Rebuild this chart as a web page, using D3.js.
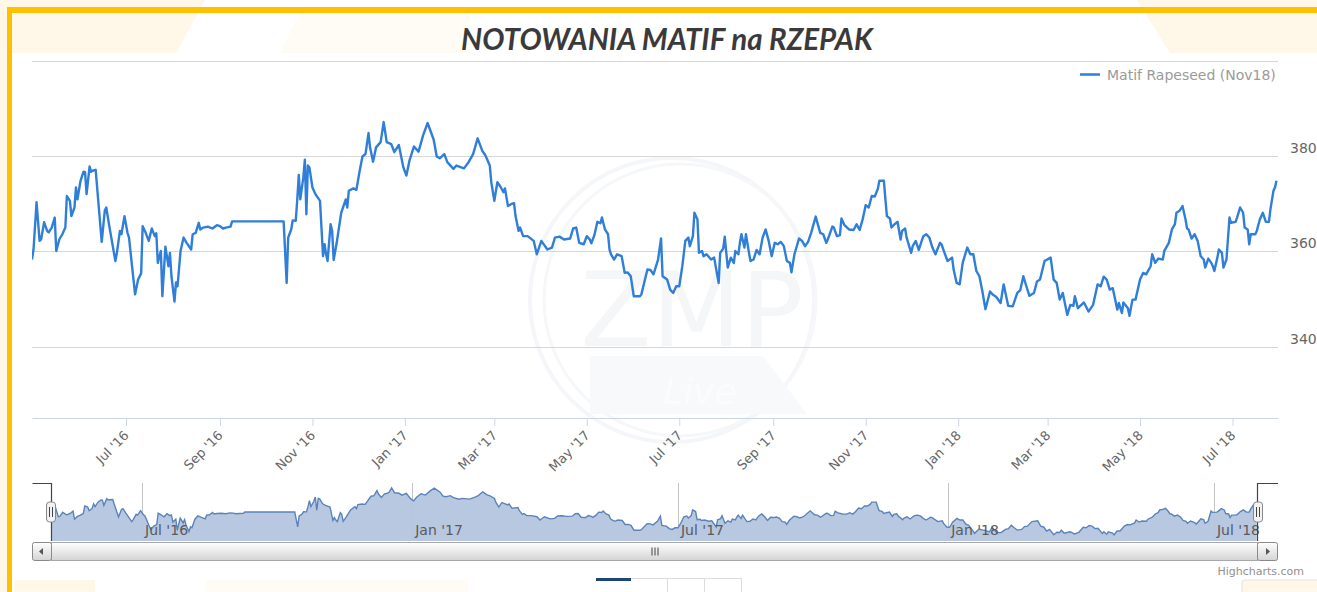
<!DOCTYPE html>
<html>
<head>
<meta charset="utf-8">
<script src="https://cdn.jsdelivr.net/npm/d3@7"></script>
<style>
  body { margin: 0; background: #fff; }
  svg { display: block; }
</style>
</head>
<body>
<div id="chart"></div>
<script>
const width = 1317;
const height = 592;

const title = "NOTOWANIA MATIF na RZEPAK";
const seriesName = "Matif Rapeseed (Nov18)";

// daily quotes, EUR/t
const dates2016 = [
  "2016-04-30","2016-05-01","2016-05-03","2016-05-05","2016-05-06","2016-05-08","2016-05-10","2016-05-11","2016-05-13","2016-05-15",
  "2016-05-16","2016-05-18","2016-05-20","2016-05-22","2016-05-23","2016-05-25","2016-05-26","2016-05-28","2016-05-29","2016-05-30",
  "2016-06-01","2016-06-03","2016-06-04","2016-06-05","2016-06-07","2016-06-08","2016-06-09","2016-06-11","2016-06-13","2016-06-15",
  "2016-06-17","2016-06-18","2016-06-20","2016-06-24","2016-06-25","2016-06-27","2016-06-28","2016-06-30",
  "2016-07-02","2016-07-03","2016-07-05","2016-07-07","2016-07-09","2016-07-11","2016-07-12","2016-07-14","2016-07-16","2016-07-18",
  "2016-07-20","2016-07-21","2016-07-22","2016-07-24","2016-07-25","2016-07-27","2016-07-29","2016-07-30","2016-07-31",
  "2016-08-02","2016-08-03","2016-08-04","2016-08-06","2016-08-08","2016-08-10","2016-08-13","2016-08-14","2016-08-16","2016-08-18",
  "2016-08-19","2016-08-21","2016-08-24","2016-08-27","2016-08-30",
  "2016-09-01","2016-09-03","2016-09-05","2016-09-08","2016-09-09",
  "2016-10-13","2016-10-15","2016-10-16","2016-10-18","2016-10-19","2016-10-21","2016-10-22","2016-10-23","2016-10-24","2016-10-26",
  "2016-10-27","2016-10-28","2016-10-29","2016-10-30",
  "2016-11-01","2016-11-03","2016-11-06","2016-11-08","2016-11-09","2016-11-10","2016-11-11","2016-11-13","2016-11-14","2016-11-15",
  "2016-11-17","2016-11-20","2016-11-23","2016-11-24","2016-11-25","2016-11-28","2016-11-30",
  "2016-12-02","2016-12-04","2016-12-06","2016-12-08","2016-12-09","2016-12-11","2016-12-13","2016-12-16","2016-12-18","2016-12-20",
  "2016-12-23","2016-12-25","2016-12-28","2016-12-31"
];
const prices2016 = [
  358.3, 360.4, 370.3, 362.2, 362.5, 366.1, 364.3, 364.0, 365.0, 367.1,
  360.1, 362.5, 363.6, 365.0, 371.6, 370.6, 367.4, 369.2, 373.4, 370.9,
  374.8, 376.7, 376.6, 372.0, 377.8, 376.7, 376.9, 377.1, 369.5, 362.0,
  368.5, 369.2, 365.3, 358.0, 359.7, 364.3, 363.6, 367.4,
  363.9, 362.9, 356.9, 351.0, 354.1, 355.4, 365.3, 363.9, 362.2, 364.8,
  363.2, 363.8, 357.6, 360.1, 350.6, 361.0, 356.9, 359.7, 354.8,
  349.5, 353.5, 352.7, 360.1, 362.9, 361.8, 360.4, 363.6, 363.9, 366.0,
  364.6, 365.0, 365.2, 364.8, 365.5,
  365.3, 364.8, 365.0, 365.2, 366.3,
  366.3, 353.4, 362.9, 364.6, 366.5, 366.4, 370.9, 376.0, 370.9, 375.5,
  379.2, 367.8, 378.0, 377.6,
  373.4, 372.0, 370.6, 359.0, 361.5, 359.4, 358.0, 365.7, 364.3, 358.2,
  361.8, 368.1, 370.9, 369.2, 372.7, 373.2, 372.9,
  376.6, 379.9, 380.4, 384.8, 381.8, 378.8, 381.8, 382.9, 387.1, 382.9,
  382.5, 380.8, 382.3, 377.6
];

const dates2017 = [
  "2017-01-02","2017-01-04","2017-01-07","2017-01-10","2017-01-13","2017-01-16","2017-01-20","2017-01-22","2017-01-24","2017-01-27","2017-01-29",
  "2017-02-02","2017-02-04","2017-02-09","2017-02-12","2017-02-15","2017-02-18","2017-02-21","2017-02-23","2017-02-26","2017-02-27",
  "2017-03-01","2017-03-03","2017-03-05","2017-03-07","2017-03-08","2017-03-10","2017-03-12","2017-03-14","2017-03-15","2017-03-17",
  "2017-03-18","2017-03-20","2017-03-23","2017-03-27","2017-03-29",
  "2017-04-01","2017-04-05","2017-04-08","2017-04-10","2017-04-13","2017-04-16","2017-04-20","2017-04-22","2017-04-24","2017-04-26","2017-04-29",
  "2017-05-01","2017-05-03","2017-05-04","2017-05-06","2017-05-08","2017-05-10","2017-05-11","2017-05-13","2017-05-15","2017-05-16",
  "2017-05-17","2017-05-19","2017-05-21","2017-05-24","2017-05-26","2017-05-28","2017-05-30",
  "2017-06-01","2017-06-05","2017-06-06","2017-06-10","2017-06-12","2017-06-14","2017-06-17","2017-06-19","2017-06-20","2017-06-23",
  "2017-06-25","2017-06-27","2017-06-29",
  "2017-07-01","2017-07-03","2017-07-05","2017-07-07","2017-07-08","2017-07-10","2017-07-11","2017-07-13","2017-07-14","2017-07-16",
  "2017-07-17","2017-07-19","2017-07-22","2017-07-24","2017-07-27","2017-07-28","2017-07-30","2017-07-31",
  "2017-08-02","2017-08-04","2017-08-06","2017-08-07","2017-08-09","2017-08-10","2017-08-11","2017-08-13","2017-08-14","2017-08-16",
  "2017-08-17","2017-08-19","2017-08-21","2017-08-23","2017-08-25","2017-08-27","2017-08-29","2017-08-31",
  "2017-09-02","2017-09-04","2017-09-06","2017-09-08","2017-09-10","2017-09-12","2017-09-13","2017-09-15","2017-09-18","2017-09-20",
  "2017-09-22","2017-09-24","2017-09-26","2017-09-29",
  "2017-10-02","2017-10-04","2017-10-06","2017-10-07","2017-10-10","2017-10-11","2017-10-13","2017-10-15","2017-10-16","2017-10-18",
  "2017-10-21","2017-10-24","2017-10-26","2017-10-28","2017-10-30",
  "2017-11-01","2017-11-03","2017-11-05","2017-11-07","2017-11-09","2017-11-10","2017-11-13","2017-11-14","2017-11-15","2017-11-17",
  "2017-11-18","2017-11-20","2017-11-22","2017-11-24","2017-11-25","2017-11-27","2017-11-28",
  "2017-12-01","2017-12-02","2017-12-04","2017-12-06","2017-12-09","2017-12-11","2017-12-13","2017-12-15","2017-12-17","2017-12-20",
  "2017-12-21","2017-12-23","2017-12-25","2017-12-28","2017-12-29","2017-12-31"
];
const prices2017 = [
  375.9, 379.0, 382.0, 380.9, 384.3, 386.9, 383.4, 379.9, 379.5, 380.4, 378.7,
  377.3, 378.0, 377.4, 378.7, 380.4, 383.7, 381.1, 380.2, 378.0, 374.5,
  370.6, 374.5, 373.6, 372.4, 373.2, 369.5, 369.9, 370.1, 367.4, 364.3,
  365.0, 363.2, 363.2, 362.2, 359.4,
  362.2, 360.4, 360.8, 362.9, 363.1, 362.5, 362.7, 364.8, 365.0, 361.8, 361.5,
  363.2, 362.5, 361.7, 363.4, 366.2, 365.9, 367.1, 364.6, 363.6, 360.4,
  359.4, 358.3, 359.4, 359.0, 355.5, 355.6, 354.8,
  350.6, 350.6, 351.0, 356.2, 356.1, 355.2, 358.3, 362.7, 354.8, 354.1,
  352.0, 351.3, 352.7,
  352.7, 356.9, 362.2, 362.9, 361.1, 363.2, 368.1, 366.7, 359.7, 360.1,
  359.0, 359.4, 358.3, 358.7, 353.4, 359.7, 360.6, 363.1,
  356.6, 358.7, 357.6, 360.1, 359.4, 361.8, 363.6, 360.8, 363.6, 359.7,
  358.0, 358.3, 360.3, 359.4, 362.9, 364.6, 362.2, 359.0,
  361.8, 361.5, 362.0, 361.1, 358.0, 357.6, 355.6, 359.4, 362.7, 362.2,
  361.1, 362.0, 363.9, 367.3,
  363.9, 363.6, 361.8, 362.5, 365.2, 365.0, 363.2, 363.4, 366.9, 365.5,
  364.6, 364.5, 365.7, 364.5, 366.7,
  369.7, 369.2, 371.6, 371.5, 373.1, 374.8, 374.8, 370.9, 367.4, 366.9,
  365.0, 365.7, 366.2, 362.5, 364.3, 364.8, 362.9,
  359.7, 361.1, 362.2, 360.3, 363.2, 363.6, 362.9, 360.8, 359.4, 361.8,
  361.5, 359.7, 358.0, 358.7, 356.2, 353.4
];

const dates2018 = [
  "2018-01-02","2018-01-04","2018-01-07","2018-01-09","2018-01-11","2018-01-13","2018-01-15","2018-01-17","2018-01-19","2018-01-22",
  "2018-01-24","2018-01-26","2018-01-29","2018-01-31",
  "2018-02-03","2018-02-06","2018-02-09","2018-02-11","2018-02-13","2018-02-15","2018-02-17","2018-02-20","2018-02-22","2018-02-24","2018-02-27",
  "2018-03-03","2018-03-05","2018-03-07","2018-03-09","2018-03-11","2018-03-14","2018-03-16","2018-03-18","2018-03-19","2018-03-21",
  "2018-03-25","2018-03-28","2018-03-31",
  "2018-04-03","2018-04-05","2018-04-07","2018-04-09","2018-04-11","2018-04-13","2018-04-16","2018-04-17","2018-04-19","2018-04-20",
  "2018-04-23","2018-04-24","2018-04-26","2018-04-28",
  "2018-05-01","2018-05-03","2018-05-05","2018-05-08","2018-05-09","2018-05-11","2018-05-13","2018-05-16","2018-05-17","2018-05-20",
  "2018-05-22","2018-05-24","2018-05-25","2018-05-27","2018-05-29","2018-05-31",
  "2018-06-01","2018-06-02","2018-06-04","2018-06-06","2018-06-08","2018-06-10","2018-06-12","2018-06-13","2018-06-15","2018-06-17",
  "2018-06-18","2018-06-19","2018-06-21","2018-06-22","2018-06-24","2018-06-25","2018-06-27","2018-06-29","2018-06-30",
  "2018-07-03","2018-07-04","2018-07-06","2018-07-08","2018-07-09","2018-07-11","2018-07-12","2018-07-13","2018-07-16","2018-07-17",
  "2018-07-19","2018-07-21","2018-07-23","2018-07-25","2018-07-26","2018-07-28","2018-07-29","2018-07-30"
];
const prices2018 = [
  353.1, 357.6, 360.8, 359.4, 359.4, 355.9, 354.8, 351.6, 347.9, 351.6,
  350.9, 350.5, 349.2, 353.1,
  348.6, 348.5, 351.3, 351.9, 354.8, 352.7, 350.7, 351.3, 353.7, 354.1, 358.0,
  358.7, 354.1, 353.4, 349.9, 351.3, 346.7, 348.8, 348.6, 350.6, 348.1,
  349.3, 347.4, 348.8,
  353.1, 352.7, 354.7, 354.1, 352.0, 352.3, 347.8, 349.2, 347.1, 349.3,
  348.1, 346.5, 349.9, 349.9,
  354.1, 355.5, 355.2, 356.9, 359.4, 357.6, 358.5, 358.3, 360.1, 361.8,
  364.6, 365.7, 368.1, 368.5, 369.5, 366.7,
  364.8, 364.6, 362.7, 363.6, 362.2, 359.0, 358.3, 356.6, 358.5, 357.6,
  356.9, 355.9, 358.7, 360.4, 359.7, 356.6, 358.3, 367.1, 366.0,
  366.2, 367.1, 369.2, 368.1, 365.0, 364.6, 361.5, 363.6, 363.6, 364.3,
  366.7, 368.1, 366.2, 366.2, 368.8, 372.7, 373.4, 374.8
];

const xDomain = ["2016-04-30", "2018-07-31"];
const yDomain = [325.1, 400];
const gridValues = [340, 360, 380, 400];
const yLabelValues = [340, 360, 380];
const xTickDates = [
  "2016-07-01","2016-09-01","2016-11-01","2017-01-01","2017-03-01","2017-05-01",
  "2017-07-01","2017-09-01","2017-11-01","2018-01-01","2018-03-01","2018-05-01","2018-07-01"
];
const navTickDates = ["2016-07-01","2017-01-01","2017-07-01","2018-01-01","2018-07-01"];
const navDomain = [341.3, 391.3];

const parse = d3.timeParse("%Y-%m-%d");
const fmt = d3.timeFormat("%b '%y");

const dates = dates2016.concat(dates2017, dates2018).map(parse);
const prices = prices2016.concat(prices2017, prices2018);
const data = dates.map((d, i) => ({ date: d, value: prices[i] }));

const plot = { left: 32, right: 1278, top: 60.5, bottom: 418 };
const nav = { left: 51, right: 1258, top: 483, bottom: 541 };
const font = "DejaVu Sans, sans-serif";

const svg = d3.select("#chart")
  .append("svg")
  .attr("width", width)
  .attr("height", height)
  .style("font-family", font);

const defs = svg.append("defs");
defs.append("clipPath").attr("id", "plot-clip")
  .append("rect")
  .attr("x", plot.left).attr("y", plot.top - 5)
  .attr("width", plot.right - plot.left).attr("height", plot.bottom - plot.top + 5);

const grad = defs.append("linearGradient").attr("id", "sb-grad")
  .attr("x1", 0).attr("y1", 0).attr("x2", 0).attr("y2", 1);
grad.append("stop").attr("offset", "0%").attr("stop-color", "#ffffff");
grad.append("stop").attr("offset", "100%").attr("stop-color", "#d4d4d4");

// page background bits
const cream = "#fff7e8";
svg.append("rect").attr("x", 0).attr("y", 0).attr("width", 7).attr("height", height).attr("fill", cream);
svg.append("polygon").attr("points", "0,0 205,0 176,53 12,53 12,7 0,7").attr("fill", cream);
svg.append("polygon").attr("points", "300,12 470,12 470,53 280,53").attr("fill", "#fffcf6");
svg.append("polygon").attr("points", "1137,0 1317,0 1317,53 1170,53").attr("fill", cream);
svg.append("rect").attr("x", 14).attr("y", 580).attr("width", 81).attr("height", 12).attr("fill", cream);
svg.append("rect").attr("x", 206).attr("y", 580).attr("width", 262).attr("height", 12).attr("fill", "#fffcf5");
svg.append("rect").attr("x", 1242).attr("y", 580).attr("width", 80).attr("height", 14).attr("rx", 3)
  .attr("fill", cream).attr("stroke", "#e4e4e4");

// yellow frame
svg.append("rect").attr("x", 7).attr("y", 7).attr("width", width - 7).attr("height", 6).attr("fill", "#ffc000");
svg.append("rect").attr("x", 7).attr("y", 7).attr("width", 5).attr("height", height - 7).attr("fill", "#ffc000");

// faint watermark
const wm = svg.append("g").attr("class", "watermark");
wm.append("circle").attr("cx", 672).attr("cy", 300).attr("r", 142)
  .attr("fill", "none").attr("stroke", "#f5f6f9").attr("stroke-width", 4);
wm.append("circle").attr("cx", 680).attr("cy", 300).attr("r", 136)
  .attr("fill", "none").attr("stroke", "#f6f7f9").attr("stroke-width", 3);
wm.append("polygon").attr("points", "590,356 763,356 807,414 590,414").attr("fill", "#f8f9fa");
wm.append("text").attr("x", 692).attr("y", 346).attr("text-anchor", "middle")
  .attr("font-size", 104).attr("fill", "#f5f6f8").text("ZMP");
wm.append("text").attr("x", 700).attr("y", 404).attr("text-anchor", "middle")
  .attr("font-size", 36).attr("font-style", "italic").attr("fill", "#fcfcfd").text("Live");

// scales
const x = d3.scaleTime().domain(xDomain.map(parse)).range([plot.left, plot.right]);
const y = d3.scaleLinear().domain(yDomain).range([plot.bottom, plot.top]);

// grid lines
svg.append("g")
  .selectAll("line")
  .data(gridValues)
  .enter()
  .append("line")
  .attr("x1", plot.left).attr("x2", plot.right)
  .attr("y1", d => Math.round(y(d)) + 0.5).attr("y2", d => Math.round(y(d)) + 0.5)
  .attr("stroke", "#d6d6d6").attr("stroke-width", 1.2);

// x axis
const xAxis = d3.axisBottom(x)
  .tickValues(xTickDates.map(parse))
  .tickFormat(fmt)
  .tickSize(8)
  .tickSizeOuter(0);

const gx = svg.append("g")
  .attr("transform", `translate(0, ${plot.bottom})`)
  .call(xAxis)
  .attr("font-family", font);
gx.select(".domain").attr("stroke", "#ccd6eb");
gx.selectAll(".tick line").attr("stroke", "#ccd6eb");
gx.selectAll(".tick text")
  .attr("x", 0).attr("y", 0).attr("dy", "0.35em")
  .attr("text-anchor", "end")
  .attr("transform", "translate(0, 15) rotate(-45)")
  .attr("font-size", 13)
  .attr("fill", "#666");

// y axis labels on the right
const yAxis = d3.axisRight(y)
  .tickValues(yLabelValues)
  .tickSize(0)
  .tickPadding(12);
const gy = svg.append("g")
  .attr("transform", `translate(${plot.right}, 0)`)
  .call(yAxis)
  .attr("font-family", font);
gy.select(".domain").remove();
gy.selectAll(".tick text")
  .attr("dy", -3.5)
  .attr("font-size", 14)
  .attr("fill", "#666");

// series line
const line = d3.line()
  .x(d => x(d.date))
  .y(d => y(d.value));

svg.append("path")
  .datum(data)
  .attr("clip-path", "url(#plot-clip)")
  .attr("d", line)
  .attr("fill", "none")
  .attr("stroke", "#2f7ed8")
  .attr("stroke-width", 2.4)
  .attr("stroke-linejoin", "round");

// legend
const legend = svg.append("g").attr("transform", "translate(1080, 74.5)");
legend.append("line").attr("x1", 0).attr("x2", 20).attr("y1", 0).attr("y2", 0)
  .attr("stroke", "#2f7ed8").attr("stroke-width", 2.5);
legend.append("text").attr("x", 27).attr("y", 5.5)
  .attr("font-size", 14).attr("fill", "#9a9a9a").text(seriesName);

// title
svg.append("text")
  .attr("x", 667).attr("y", 50)
  .attr("text-anchor", "middle")
  .style("font-family", "Lato, 'Open Sans', sans-serif")
  .attr("font-weight", "bold")
  .attr("font-style", "italic")
  .attr("font-size", 29.5)
  .attr("fill", "#3a3a3a")
  .text(title);

// navigator
const xNav = d3.scaleTime().domain(xDomain.map(parse)).range([nav.left, nav.right]);
const yNav = d3.scaleLinear().domain(navDomain).range([nav.bottom, nav.top]);

svg.append("g")
  .selectAll("line")
  .data(navTickDates.map(parse))
  .enter()
  .append("line")
  .attr("x1", d => Math.round(xNav(d)) + 0.5).attr("x2", d => Math.round(xNav(d)) + 0.5)
  .attr("y1", nav.top).attr("y2", nav.bottom)
  .attr("stroke", "#c4c4c4");

const area = d3.area()
  .x(d => xNav(d.date))
  .y0(nav.bottom)
  .y1(d => yNav(d.value));

svg.append("path")
  .datum(data)
  .attr("d", area)
  .attr("fill", "#b4c5de")
  .attr("fill-opacity", 0.95);

svg.append("path")
  .datum(data)
  .attr("d", d3.line().x(d => xNav(d.date)).y(d => yNav(d.value)))
  .attr("fill", "none")
  .attr("stroke", "#5b83ba")
  .attr("stroke-width", 1.4);

svg.append("g")
  .selectAll("text")
  .data(navTickDates.map(parse))
  .enter()
  .append("text")
  .attr("x", d => xNav(d) + 3)
  .attr("y", 535)
  .attr("font-size", 14)
  .attr("fill", "#5a5a5a")
  .text(fmt);

// navigator outline
svg.append("path")
  .attr("d", `M${plot.left + 0.5},${nav.top + 0.5} H${nav.left + 0.5} V${nav.bottom}` +
             ` M${nav.right - 0.5},${nav.bottom} V${nav.top + 0.5} H${plot.right}`)
  .attr("fill", "none")
  .attr("stroke", "#444")
  .attr("stroke-width", 1.2);

// scrollbar
const sbY = 542, sbH = 18;
svg.append("rect")
  .attr("x", nav.left + 0.5).attr("y", sbY + 0.5)
  .attr("width", nav.right - nav.left - 1).attr("height", sbH)
  .attr("fill", "url(#sb-grad)").attr("stroke", "#a8a8a8");
[[plot.left + 0.5, nav.left - plot.left], [nav.right - 0.5, plot.right - nav.right]].forEach(([bx, bw]) => {
  svg.append("rect")
    .attr("x", bx).attr("y", sbY + 0.5)
    .attr("width", bw).attr("height", sbH).attr("rx", 2)
    .attr("fill", "url(#sb-grad)").attr("stroke", "#8a8a8a");
});
svg.append("path").attr("d", `M43,${sbY + 6} L39,${sbY + 9.5} L43,${sbY + 13} Z`).attr("fill", "#555");
svg.append("path").attr("d", `M1266,${sbY + 6} L1270,${sbY + 9.5} L1266,${sbY + 13} Z`).attr("fill", "#555");
const gripX = (nav.left + nav.right) / 2;
[-3, 0, 3].forEach(dx => {
  svg.append("line")
    .attr("x1", gripX + dx + 0.5).attr("x2", gripX + dx + 0.5)
    .attr("y1", sbY + 5.5).attr("y2", sbY + 13.5)
    .attr("stroke", "#444");
});

// navigator handles
[nav.left, nav.right].forEach(hx => {
  const h = svg.append("g").attr("transform", `translate(${hx}, 502)`);
  h.append("rect").attr("x", -4.5).attr("y", 0).attr("width", 9).attr("height", 20).attr("rx", 3)
    .attr("fill", "#f2f2f2").attr("stroke", "#888");
  [-1.5, 1.5].forEach(dx => {
    h.append("line").attr("x1", dx).attr("x2", dx).attr("y1", 5).attr("y2", 15).attr("stroke", "#444");
  });
});

// credits
svg.append("text")
  .attr("x", 1304).attr("y", 575)
  .attr("text-anchor", "end")
  .attr("font-size", 11)
  .attr("fill", "#909090")
  .text("Highcharts.com");

// cut-off range selector buttons at the bottom edge
svg.append("rect").attr("x", 596).attr("y", 578).attr("width", 35).attr("height", 3).attr("fill", "#1d4674");
svg.append("path")
  .attr("d", "M631,578.5 H742 M667.5,578 V592 M704.5,578 V592 M741.5,578 V592")
  .attr("stroke", "#dcdcdc").attr("fill", "none");
</script>
</body>
</html>
